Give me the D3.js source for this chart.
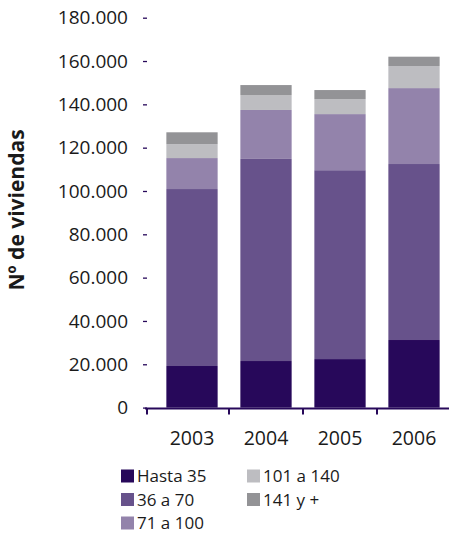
<!DOCTYPE html>
<html>
<head>
<meta charset="utf-8">
<script src="https://cdn.jsdelivr.net/npm/d3@7/dist/d3.min.js"></script>
<style>
  html, body { margin: 0; padding: 0; background: #fff; }
  svg { display: block; }
  text { font-family: "Open Sans", "DejaVu Sans", sans-serif; fill: #1a1a1a; }
</style>
</head>
<body>
<script>
// Viviendas por superficie útil (m²), 2003–2006
const years = ["2003", "2004", "2005", "2006"];
const sizeClasses = ["Hasta 35", "36 a 70", "71 a 100", "101 a 140", "141 y +"];
const hasta35   = [19200, 21500, 22400, 31200];
const de36a70   = [81700, 93300, 87200, 81250];
const de71a100  = [14300, 22600, 25900, 35050];
const de101a140 = [6400, 6900, 6900, 10200];
const mas141    = [5500, 4600, 4200, 4300];
const yTicks = [0, 20000, 40000, 60000, 80000, 100000, 120000, 140000, 160000, 180000];
const colors = ["#27085a", "#67528b", "#9383ab", "#bdbdc1", "#939396"];

const W = 449, H = 534;
const svg = d3.select("body").append("svg").attr("width", W).attr("height", H);

const rows = years.map((yr, i) => ({
  year: yr,
  "Hasta 35": hasta35[i],
  "36 a 70": de36a70[i],
  "71 a 100": de71a100[i],
  "101 a 140": de101a140[i],
  "141 y +": mas141[i]
}));
const stacked = d3.stack().keys(sizeClasses)(rows);

const x = d3.scaleBand().domain(years).range([155, 451]).paddingInner(0.307).paddingOuter(0.1535);
const y = d3.scaleLinear().domain([0, 180000]).range([407.6, 17.7]);
const color = d3.scaleOrdinal().domain(sizeClasses).range(colors);

// stacked bars
svg.append("g").selectAll("g").data(stacked).join("g")
  .attr("fill", d => color(d.key))
  .selectAll("rect").data(d => d).join("rect")
  .attr("x", d => x(d.data.year))
  .attr("width", x.bandwidth())
  .attr("y", d => y(d[1]))
  .attr("height", d => y(d[0]) - y(d[1]));

// y axis: ticks only, no spine
const fmt = v => d3.format(",")(v).replace(/,/g, ".");
const yAxis = svg.append("g").attr("transform", "translate(147,0)")
  .call(d3.axisLeft(y).tickValues(yTicks).tickFormat(fmt).tickSize(4).tickPadding(15));
yAxis.select(".domain").remove();
yAxis.selectAll(".tick line").attr("stroke", "#27085a").attr("stroke-width", 1.3);
yAxis.selectAll(".tick text").style("font-size", "19px").attr("fill", "#1a1a1a");

// x axis: baseline and category separators
const base = y(0) + 0.8;
svg.append("line").attr("x1", 145).attr("x2", W).attr("y1", base).attr("y2", base)
  .attr("stroke", "#27085a").attr("stroke-width", 2);
const step = x.step();
const sepX = [147].concat(years.slice(1).map(yr => x(yr) - step * x.paddingInner() / 2));
svg.append("g").selectAll("line").data(sepX).join("line")
  .attr("x1", d => d).attr("x2", d => d)
  .attr("y1", base).attr("y2", base + 6)
  .attr("stroke", "#27085a").attr("stroke-width", 2);

svg.append("g").selectAll("text").data(years).join("text")
  .attr("x", d => x(d) + x.bandwidth() / 2)
  .attr("y", 445)
  .attr("text-anchor", "middle")
  .style("font-size", "19.5px")
  .text(d => d);

// axis title
svg.append("text")
  .attr("transform", "translate(24,210) rotate(-90)")
  .attr("text-anchor", "middle")
  .style("font-size", "21px")
  .style("font-weight", "bold")
  .text("Nº de viviendas");

// legend
const legendPos = [[121, 476], [121, 499.5], [121, 523], [247, 476], [247, 499.5]];
const lg = svg.append("g").selectAll("g").data(sizeClasses).join("g")
  .attr("transform", (d, i) => `translate(${legendPos[i][0]},${legendPos[i][1]})`);
lg.append("rect").attr("x", 0).attr("y", -6.5).attr("width", 13).attr("height", 13)
  .attr("fill", d => color(d));
lg.append("text").attr("x", 16).attr("y", 6).style("font-size", "17px").text(d => d);
</script>
</body>
</html>
